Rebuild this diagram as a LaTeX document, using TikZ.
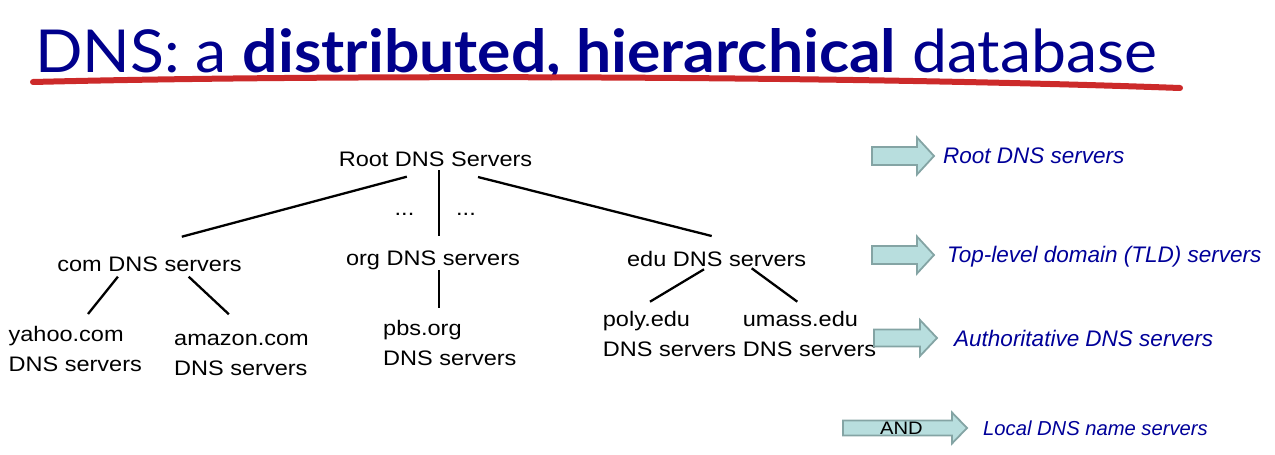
\documentclass[tikz,border=0pt]{standalone}
\usepackage{graphicx}
\usepackage{fontspec}
\setmainfont{Liberation Sans}
\newfontfamily\treefont[FakeStretch=1.12]{Liberation Sans}
\newfontfamily\titlefont{Lato}
\usetikzlibrary{calc}
\definecolor{titleblue}{RGB}{0,0,140}
\definecolor{legendblue}{RGB}{0,0,153}
\definecolor{underlinered}{RGB}{204,42,42}
\definecolor{arrowfill}{RGB}{184,222,222}
\definecolor{arrowedge}{RGB}{132,164,164}
\begin{document}
\begin{tikzpicture}[x=1pt,y=-1pt,
  tree/.style={inner sep=0pt, anchor=base, font=\treefont\fontsize{21}{30}\selectfont},
  leaf/.style={inner sep=0pt, anchor=base west, font=\treefont\fontsize{21}{30}\selectfont},
  dotsnode/.style={inner sep=0pt, anchor=base, font=\treefont\fontsize{21}{30}\selectfont},
  link/.style={line width=2.3pt, black},
  legendtext/.style={inner sep=0pt, anchor=base west, text=legendblue, font=\itshape\fontsize{22.5}{27}\selectfont},
  legendarrow/.style={fill=arrowfill, draw=arrowedge, line width=1.8pt, line join=miter}]
\useasboundingbox (0,0) rectangle (1275,455);

% heading and its hand-drawn underline
\node[anchor=base west, inner sep=0pt, text=titleblue] (title) at (35,72)
  {\resizebox{1122pt}{44pt}{\titlefont DNS: a \textbf{distributed, hierarchical} database}};
\draw[underlinered, line width=6pt, line cap=round]
  (33,82) .. controls (350,74) and (850,76) .. (1180,88);

% hierarchy of servers
\node[tree] (root) at (435.5,166) {Root DNS Servers};
\node[tree] (com) at (149.5,271.7) {com DNS servers};
\node[tree] (org) at (433,265) {org DNS servers};
\node[tree] (edu) at (716.7,266) {edu DNS servers};
\node[leaf] (yahoo) at (8.4,341.7) {\begin{tabular}[t]{@{}l@{}}yahoo.com\\DNS servers\end{tabular}};
\node[leaf] (amazon) at (174,345) {\begin{tabular}[t]{@{}l@{}}amazon.com\\DNS servers\end{tabular}};
\node[leaf] (pbs) at (383,335) {\begin{tabular}[t]{@{}l@{}}pbs.org\\DNS servers\end{tabular}};
\node[leaf] (poly) at (602.7,326.7) {\begin{tabular}[t]{@{}l@{}}poly.edu\\DNS servers\end{tabular}};
\node[leaf] (umass) at (742.7,326.7) {\begin{tabular}[t]{@{}l@{}}umass.edu\\DNS servers\end{tabular}};
\node[dotsnode] (dotsl) at (404.5,215.5) {...};
\node[dotsnode] (dotsr) at (466,215.5) {...};

\draw[link] ($(root.base)+(-28.7,10.7)$) -- ($(com.base)+(32.3,-35)$);
\draw[link] ($(root.base)+(3.5,4)$) -- ($(org.base)+(6,-29)$);
\draw[link] ($(root.base)+(42.5,11)$) -- ($(edu.base)+(-5,-30)$);
\draw[link] ($(com.base)+(-31.6,5)$) -- ($(yahoo.base west)+(79.6,-27.7)$);
\draw[link] ($(com.base)+(39.2,5)$) -- ($(amazon.base west)+(54.9,-30.7)$);
\draw[link] ($(org.base)+(6,5)$) -- ($(pbs.base west)+(56,-27)$);
\draw[link] ($(edu.base)+(-12.7,3.3)$) -- ($(poly.base west)+(47.3,-25)$);
\draw[link] ($(edu.base)+(35,2.3)$) -- ($(umass.base west)+(54.6,-25)$);

% legend: block arrows and level names
\draw[legendarrow] (872,147) -- (917,147) -- (917,137.5) -- (934,156) -- (917,174.5) -- (917,165) -- (872,165) -- cycle;
\draw[legendarrow] (872,246) -- (917,246) -- (917,236.5) -- (934,255) -- (917,273.5) -- (917,264) -- (872,264) -- cycle;
\draw[legendarrow] (874,329.5) -- (920,329.5) -- (920,320) -- (937,338) -- (920,356) -- (920,346.5) -- (874,346.5) -- cycle;
\draw[legendarrow] (843,420.5) -- (952,420.5) -- (952,412.5) -- (967,428) -- (952,443.5) -- (952,435.5) -- (843,435.5) -- cycle;
\node[inner sep=0pt, font=\treefont\fontsize{18}{22}\selectfont] (andlabel) at (901.5,428) {AND};

\node[legendtext] (lroot) at (943,163) {Root DNS servers};
\node[legendtext] (ltld) at (947,262) {Top-level domain (TLD) servers};
\node[legendtext] (lauth) at (954,346) {Authoritative DNS servers};
\node[legendtext, font=\itshape\fontsize{20.2}{24}\selectfont] (llocal) at (983,435) {Local DNS name servers};
\end{tikzpicture}
\end{document}
